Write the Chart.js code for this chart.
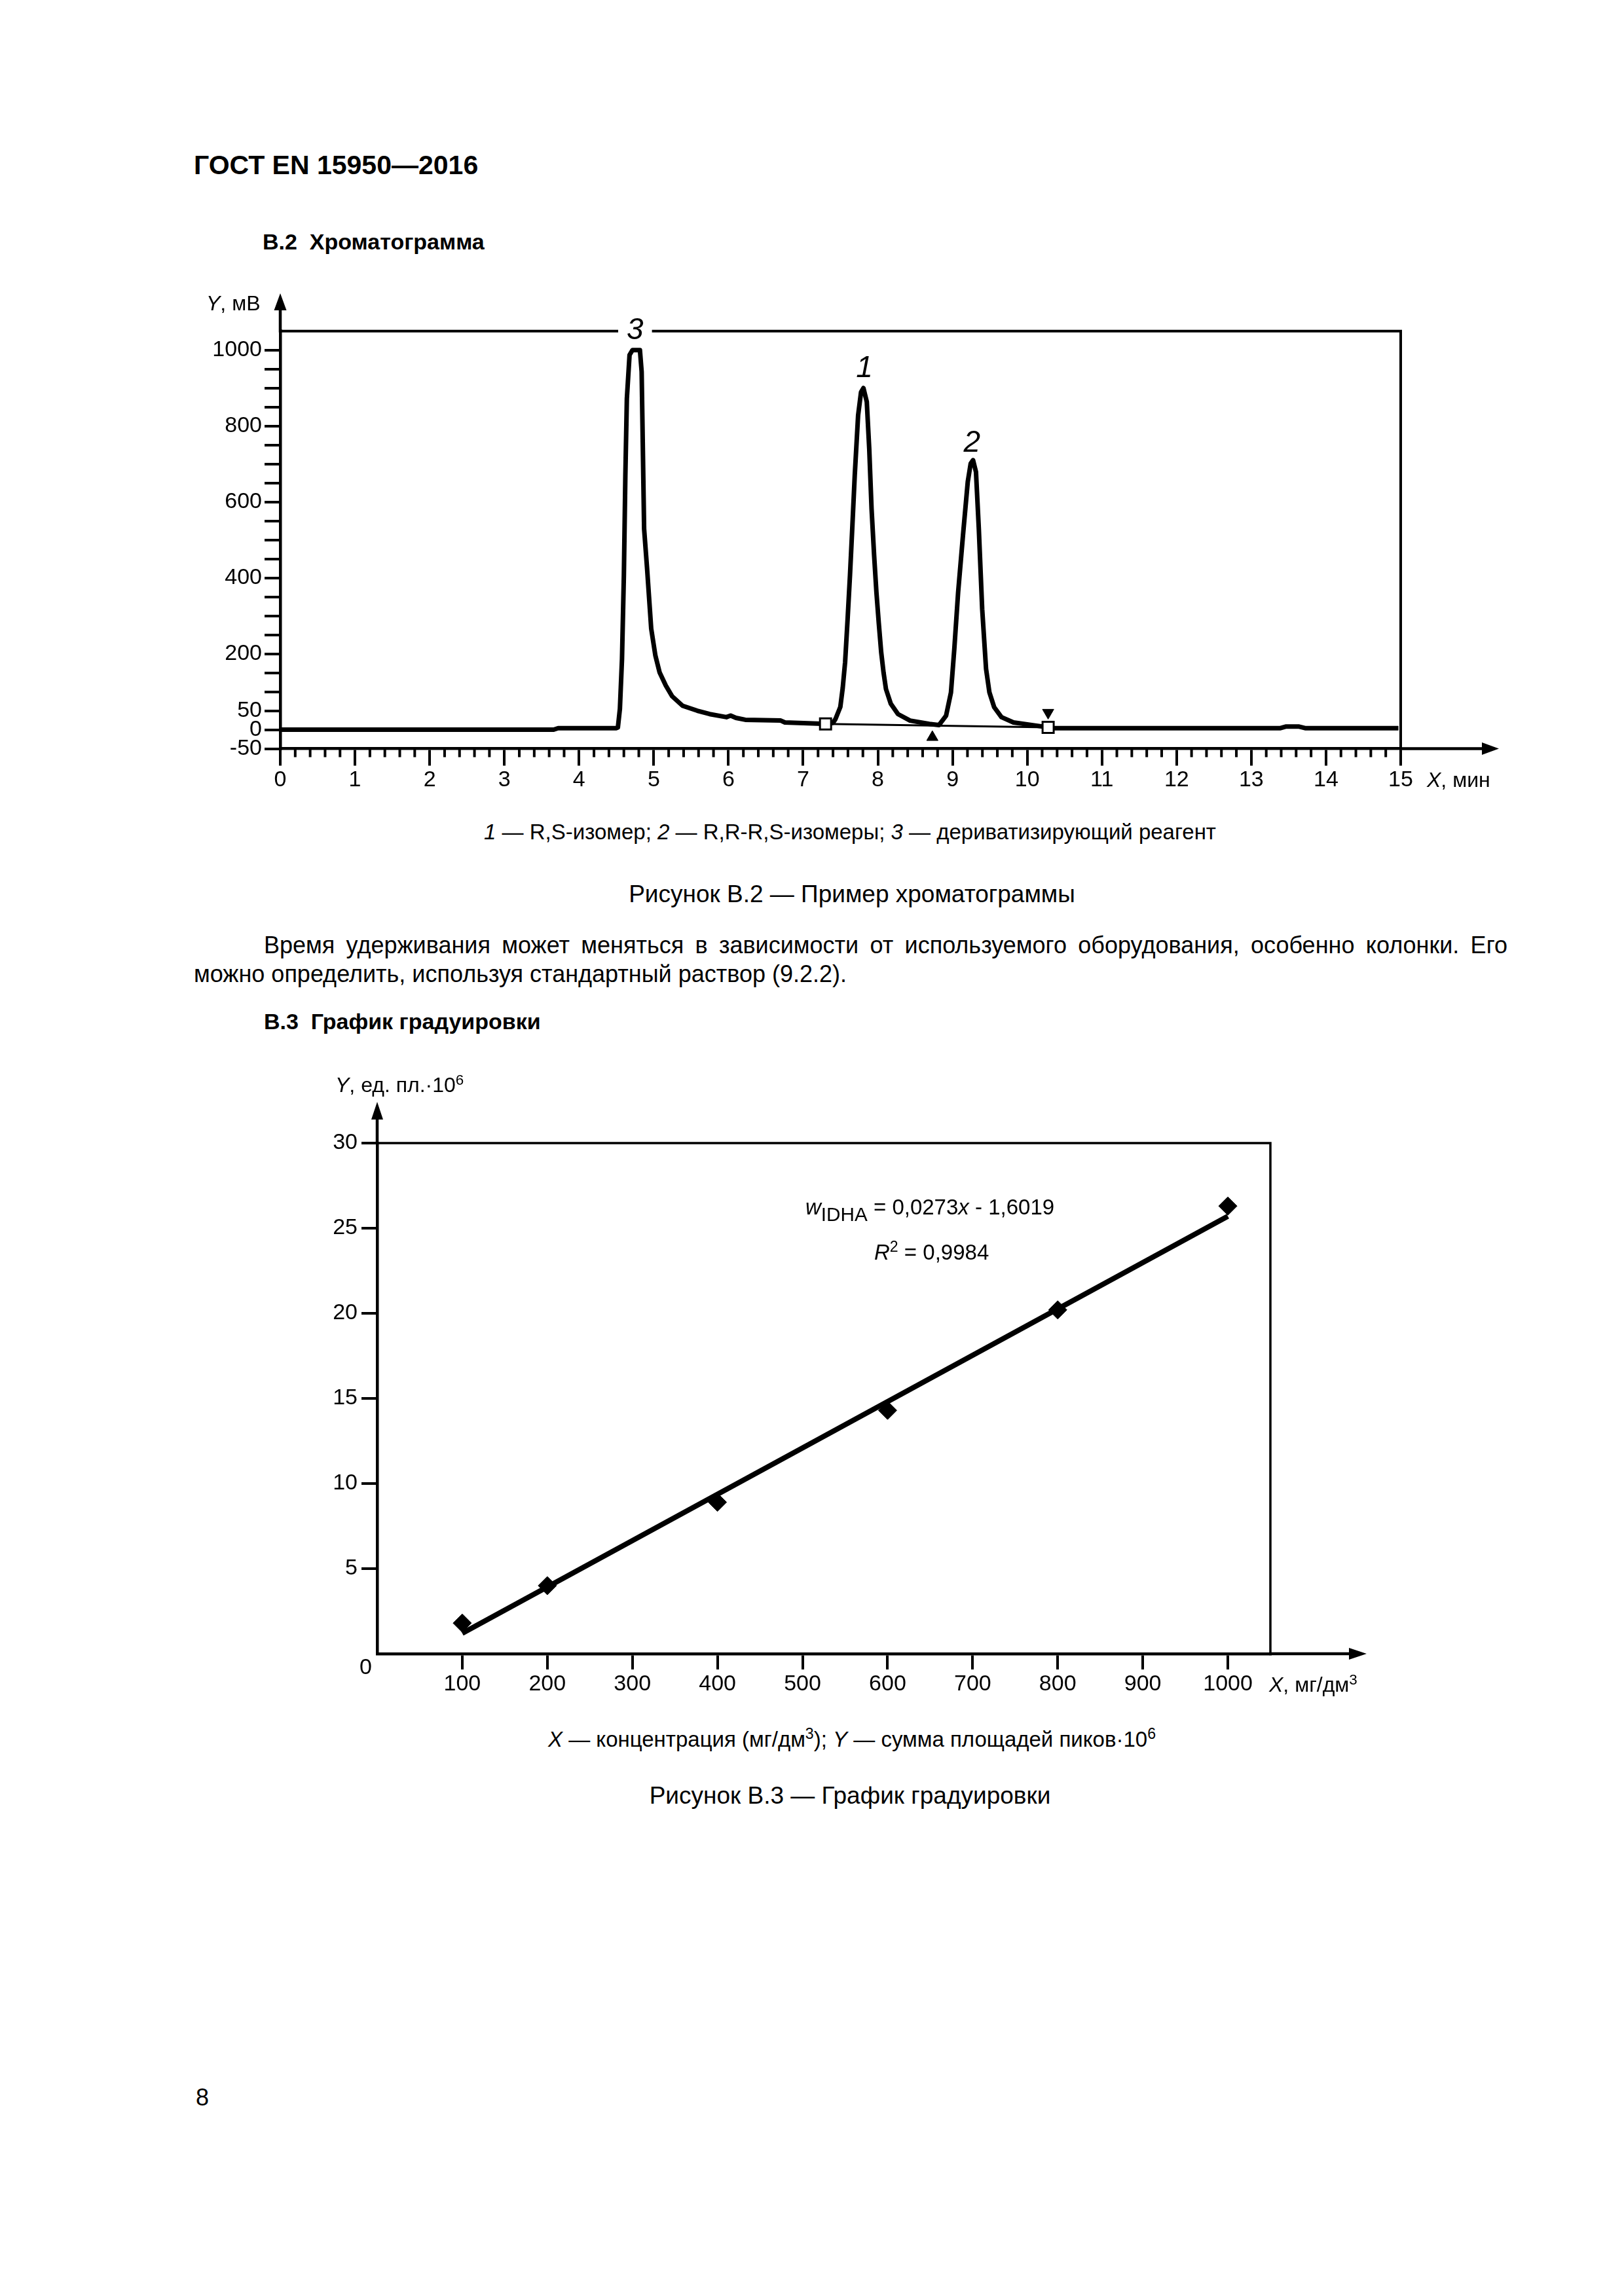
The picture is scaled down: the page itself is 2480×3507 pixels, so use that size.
<!DOCTYPE html>
<html lang="ru">
<head>
<meta charset="utf-8">
<title>ГОСТ EN 15950—2016, с. 8</title>
<script src="https://cdn.jsdelivr.net/npm/chart.js@4.4.1/dist/chart.umd.min.js"></script>
<style>
  html, body { margin: 0; padding: 0; background: #fff; }
  #page { position: relative; width: 2480px; height: 3507px; background: #fff; overflow: hidden;
          font-family: "Liberation Sans", Arial, sans-serif; color: #000; }
  .t { position: absolute; white-space: nowrap; line-height: 1; }
  .c { transform: translateX(-50%); }
  .b { font-weight: bold; }
  sub, sup { line-height: 0; }
  sup { font-size: 0.7em; vertical-align: 0.5em; }
  canvas { position: absolute; }
</style>
</head>
<body>
<div id="page">
  <div class="t b" style="left:296px;top:232px;font-size:41px">ГОСТ EN 15950—2016</div>
  <div class="t b" style="left:401px;top:352px;font-size:34px">В.2&nbsp; Хроматограмма</div>

  <canvas id="chrom" width="2100" height="810" style="left:250px;top:420px"></canvas>
  <div class="t" style="left:315px;top:447px;font-size:32px"><i>Y</i>, мВ</div>
  <div class="t" style="left:2179px;top:1175px;font-size:32px"><i>X</i>, мин</div>

  <div class="t c" style="left:1298px;top:1254px;font-size:33px"><i>1</i> — R,S-изомер; <i>2</i> — R,R-R,S-изомеры; <i>3</i> — дериватизирующий реагент</div>
  <div class="t c" style="left:1301px;top:1347px;font-size:37px">Рисунок В.2 — Пример хроматограммы</div>

  <div class="t" style="left:403px;top:1425.5px;width:1899px;font-size:36px;white-space:normal;text-align:justify;text-align-last:justify">Время удерживания может меняться в зависимости от используемого оборудования, особенно колонки. Его</div>
  <div class="t" style="left:296px;top:1469.5px;font-size:36px">можно определить, используя стандартный раствор (9.2.2).</div>

  <div class="t b" style="left:403px;top:1543px;font-size:34px">В.3&nbsp; График градуировки</div>

  <canvas id="calib" width="1700" height="1000" style="left:450px;top:1620px"></canvas>
  <div class="t" style="left:512px;top:1641px;font-size:32px"><i>Y</i>, ед. пл.·10<sup>6</sup></div>
  <div class="t" style="left:1938px;top:2557px;font-size:32px"><i>X</i>, мг/дм<sup>3</sup></div>
  <div class="t" style="left:549px;top:2528px;font-size:34px">0</div>
  <div class="t" style="left:1230px;top:1826.6px;font-size:33px"><i>w</i><sub style="font-size:0.9em;vertical-align:-0.32em">IDHA</sub> = 0,0273<i>x</i> - 1,6019</div>
  <div class="t" style="left:1335px;top:1895.8px;font-size:33px"><i>R</i><sup>2</sup> = 0,9984</div>

  <div class="t c" style="left:1301px;top:2640px;font-size:33px"><i>X</i> — концентрация (мг/дм<sup>3</sup>); <i>Y</i> — сумма площадей пиков·10<sup>6</sup></div>
  <div class="t c" style="left:1298px;top:2723.7px;font-size:37px">Рисунок В.3 — График градуировки</div>

  <div class="t" style="left:299px;top:3185.5px;font-size:36px">8</div>
</div>

<script>
// --- Рисунок В.2: хроматограмма (время, мин / сигнал, мВ) ---
const timeMin = [0, 3.66, 3.72, 4.50, 4.52, 4.547, 4.575, 4.60, 4.62, 4.64, 4.676, 4.715, 4.815,
  4.838, 4.871, 4.911, 4.966, 5.022, 5.078, 5.162, 5.246, 5.386, 5.582, 5.749, 5.973, 6.029, 6.10,
  6.225, 6.70, 6.756, 7.315, 7.40, 7.433, 7.498, 7.53, 7.562, 7.595, 7.627, 7.66, 7.691, 7.736,
  7.775, 7.807, 7.852, 7.885, 7.916, 7.95, 7.981, 8.013, 8.045, 8.077, 8.109, 8.174, 8.27, 8.431,
  8.689, 8.818, 8.914, 8.979, 9.024, 9.075, 9.14, 9.204, 9.243, 9.275, 9.314, 9.352, 9.397, 9.449,
  9.494, 9.558, 9.655, 9.816, 10.106, 10.36, 13.39, 13.46, 13.64, 13.72, 14.97];
const signalMv = [0, 0, 4, 4, 6, 55, 186, 406, 670, 872, 987, 1000, 1000,
  943, 529, 424, 266, 195, 151, 116, 88, 63, 50, 41, 33, 37, 31,
  26, 24, 19, 15, 18, 28, 60, 110, 178, 290, 406, 540, 670, 828,
  889, 900, 864, 740, 582, 460, 362, 280, 204, 150, 107, 68, 41, 24,
  15, 12, 37, 98, 213, 362, 512, 653, 701, 710, 679, 529, 318, 160,
  98, 59, 33, 19, 11, 4, 4, 8, 8, 4, 4];
const integrationTime = [7.30, 10.28];
const integrationMv = [15, 6];
const valleyTime = [8.73];
const valleyMv = [-20];
const endMarkTime = [10.28];
const endMarkMv = [45];
const chromXTicks = [0, 1, 2, 3, 4, 5, 6, 7, 8, 9, 10, 11, 12, 13, 14, 15];
const chromYLabels = [-50, 0, 50, 200, 400, 600, 800, 1000];

// --- Рисунок В.3: график градуировки ---
const concMg = [100, 200, 400, 600, 800, 1000];
const areaE6 = [1.8, 4.0, 8.9, 14.3, 20.2, 26.3];
const fitConc = [100, 1000];
const fitArea = [1.2, 25.7];
const calXTicks = [100, 200, 300, 400, 500, 600, 700, 800, 900, 1000];
const calYTicks = [5, 10, 15, 20, 25, 30];

const FONT = '"Liberation Sans", Arial, sans-serif';
Chart.defaults.font.family = FONT;
Chart.defaults.color = '#000';

const pts = (xs, ys) => xs.map((x, i) => ({ x: x, y: ys[i] }));

// frame (top + right), arrow heads, minor ticks and peak numbers
const axisFrame = {
  id: 'axisFrame',
  afterDraw(chart, args, o) {
    const ctx = chart.ctx, a = chart.chartArea;
    const xs = chart.scales.x, ys = chart.scales.y;
    ctx.save();
    ctx.strokeStyle = '#000';
    ctx.fillStyle = '#000';
    ctx.lineWidth = o.frameWidth;
    ctx.beginPath();
    ctx.moveTo(a.left, a.top);
    ctx.lineTo(a.right, a.top);
    ctx.lineTo(a.right, a.bottom);
    ctx.stroke();

    ctx.lineWidth = o.axisWidth;
    ctx.beginPath();
    ctx.moveTo(a.left, a.top + 2);
    ctx.lineTo(a.left, o.yTip + o.head);
    ctx.moveTo(a.right - 2, a.bottom);
    ctx.lineTo(o.xTip - o.head, a.bottom);
    ctx.stroke();
    ctx.beginPath();
    ctx.moveTo(a.left, o.yTip);
    ctx.lineTo(a.left - o.half, o.yTip + o.head);
    ctx.lineTo(a.left + o.half, o.yTip + o.head);
    ctx.closePath();
    ctx.moveTo(o.xTip, a.bottom);
    ctx.lineTo(o.xTip - o.head, a.bottom - o.half);
    ctx.lineTo(o.xTip - o.head, a.bottom + o.half);
    ctx.closePath();
    ctx.fill();

    if (o.minor) {
      ctx.lineWidth = o.minor.width;
      ctx.beginPath();
      for (let i = 1; i < o.minor.count; i++) {
        if (i % o.minor.every === 0) continue;
        const px = xs.getPixelForValue(i * o.minor.step);
        ctx.moveTo(px, a.bottom);
        ctx.lineTo(px, a.bottom + o.minor.len);
      }
      ctx.stroke();
    }

    (o.labels || []).forEach(l => {
      const px = xs.getPixelForValue(l.x), py = ys.getPixelForValue(l.y);
      ctx.font = o.labelFont;
      if (l.knockout) {
        const w = ctx.measureText(l.text).width;
        ctx.fillStyle = '#fff';
        ctx.fillRect(px - w / 2 - 13, py - 5, w + 26, 10);
        ctx.fillStyle = '#000';
      }
      ctx.textAlign = 'center';
      ctx.textBaseline = 'middle';
      ctx.fillText(l.text, px, py);
    });
    ctx.restore();
  }
};

const axisStyle = (tickLength, padding, labelFn) => ({
  grid: { drawOnChartArea: false, drawTicks: true, tickLength: tickLength, tickWidth: 4, tickColor: '#000', lineWidth: 4 },
  border: { display: true, color: '#000', width: 4.5 },
  ticks: { font: { size: 34, family: FONT }, color: '#000', padding: padding, autoSkip: false, maxRotation: 0,
           callback: labelFn || (v => String(v)) }
});

new Chart(document.getElementById('chrom'), {
  type: 'scatter',
  data: {
    datasets: [{
      data: pts(timeMin, signalMv),
      showLine: true, borderColor: '#000', borderWidth: 7, pointRadius: 0, tension: 0,
      borderJoinStyle: 'round', order: 5
    }, {
      data: pts(integrationTime, integrationMv),
      showLine: true, borderColor: '#000', borderWidth: 3, pointRadius: 0, order: 4
    }, {
      data: pts(integrationTime, integrationMv),
      pointStyle: 'rect', pointRadius: 12, backgroundColor: '#fff', borderColor: '#000', borderWidth: 3, order: 1
    }, {
      data: pts(valleyTime, valleyMv),
      pointStyle: 'triangle', pointRadius: 10, backgroundColor: '#000', borderColor: '#000', borderWidth: 1, order: 1
    }, {
      data: pts(endMarkTime, endMarkMv),
      pointStyle: 'triangle', rotation: 180, pointRadius: 10, backgroundColor: '#000', borderColor: '#000', borderWidth: 1, order: 1
    }]
  },
  options: {
    responsive: false, animation: false, devicePixelRatio: 1, events: [],
    layout: { padding: { top: 85.7, right: 211, left: 0, bottom: 0 } },
    plugins: {
      legend: { display: false }, tooltip: { enabled: false },
      axisFrame: {
        frameWidth: 4, axisWidth: 4.5, yTip: 28, xTip: 2039, head: 26, half: 9.5,
        minor: { step: 0.2, count: 75, every: 5, len: 13, width: 4 },
        labelFont: 'italic 46px ' + FONT,
        labels: [
          { text: '3', x: 4.75, y: 1050, knockout: true },
          { text: '1', x: 7.82, y: 951 },
          { text: '2', x: 9.26, y: 754 }
        ]
      }
    },
    scales: {
      x: Object.assign(axisStyle(26, 2), {
        type: 'linear', min: 0, max: 15,
        afterBuildTicks: s => { s.ticks = chromXTicks.map(v => ({ value: v })); },
        afterFit: s => { s.height = 86.5; }
      }),
      y: Object.assign(axisStyle(24, 4, v => chromYLabels.includes(v) ? String(v) : ''), {
        type: 'linear', min: -50, max: 1050,
        afterBuildTicks: s => {
          const t = [];
          for (let v = -50; v <= 1000; v += 50) t.push({ value: v });
          s.ticks = t;
        },
        afterFit: s => { s.width = 178; }
      })
    }
  },
  plugins: [axisFrame]
});

new Chart(document.getElementById('calib'), {
  type: 'scatter',
  data: {
    datasets: [{
      data: pts(concMg, areaE6),
      pointStyle: 'rectRot', pointRadius: 14, backgroundColor: '#000', borderColor: '#000', borderWidth: 1, order: 1
    }, {
      data: pts(fitConc, fitArea),
      showLine: true, borderColor: '#000', borderWidth: 8, pointRadius: 0, order: 2
    }]
  },
  options: {
    responsive: false, animation: false, devicePixelRatio: 1, events: [],
    layout: { padding: { top: 126, right: 210, left: 0, bottom: 0 } },
    plugins: {
      legend: { display: false }, tooltip: { enabled: false },
      axisFrame: { frameWidth: 3.5, axisWidth: 4.5, yTip: 63, xTip: 1637, head: 27, half: 9 }
    },
    scales: {
      x: Object.assign(axisStyle(24, 2), {
        type: 'linear', min: 0, max: 1050,
        afterBuildTicks: s => { s.ticks = calXTicks.map(v => ({ value: v })); },
        afterFit: s => { s.height = 94; }
      }),
      y: Object.assign(axisStyle(24, 6), {
        type: 'linear', min: 0, max: 30,
        afterBuildTicks: s => { s.ticks = calYTicks.map(v => ({ value: v })); },
        afterFit: s => { s.width = 126; }
      })
    }
  },
  plugins: [axisFrame]
});
</script>
</body>
</html>
